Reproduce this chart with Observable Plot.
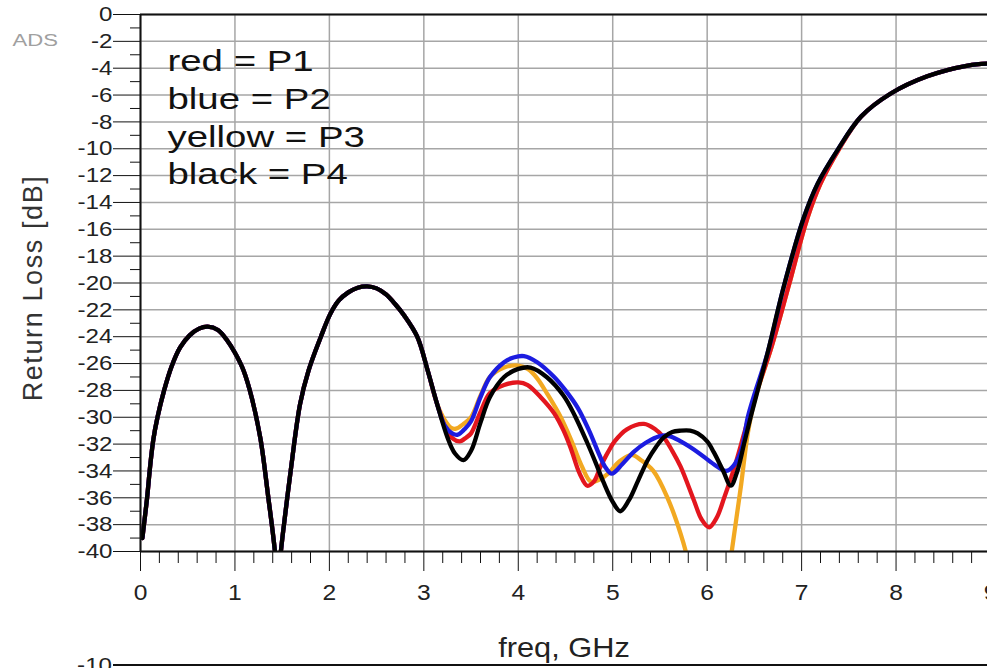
<!DOCTYPE html>
<html>
<head>
<meta charset="utf-8">
<script src="https://cdn.jsdelivr.net/npm/d3@7"></script>
<script src="https://cdn.jsdelivr.net/npm/@observablehq/plot@0.6"></script>
<style>
  html, body { margin: 0; padding: 0; background: white; overflow: hidden; }
  #chart svg { display: block; }
</style>
</head>
<body>
<div id="chart"></div>
<script>
// ---- data (freq GHz, return loss dB) ----
const lowBand = [
  [0.02,-39.0],[0.04,-37.8],[0.07,-36.0],[0.1,-33.8],[0.135,-31.7],[0.18,-30.0],[0.25,-28.0],
  [0.33,-26.2],[0.42,-24.8],[0.52,-23.9],[0.62,-23.4],[0.71,-23.25],[0.82,-23.5],[0.92,-24.3],
  [1.0,-25.2],[1.09,-26.5],[1.18,-28.6],[1.27,-31.6],[1.35,-35.8],[1.43,-40.5],[1.455,-44],
  [1.48,-40.5],[1.54,-36.8],[1.59,-34.0],[1.69,-29.0],[1.78,-26.5],[1.91,-24.0],[2.01,-22.3],
  [2.1,-21.3],[2.2,-20.7],[2.3,-20.35],[2.4,-20.25],[2.5,-20.4],[2.6,-20.85],[2.7,-21.6],
  [2.79,-22.4],[2.93,-24.0],[3.04,-26.5],[3.14,-29.0]
];
const highBand = [
  [6.64,-25.2],[6.81,-20.3],[7.02,-15.2],[7.17,-12.6],[7.38,-10.1],[7.63,-7.6],
  [7.94,-5.9],[8.33,-4.6],[8.76,-3.8],[9.0,-3.65]
];
const highBandShifted = [
  [6.68,-24.8],[6.86,-20.3],[7.06,-15.2],[7.2,-12.6],[7.39,-10.1],[7.63,-7.6],
  [7.94,-5.9],[8.33,-4.6],[8.76,-3.8],[9.0,-3.65]
];
// red = P1
const p1Mid = [
  [3.23,-30.8],[3.31,-31.6],[3.38,-31.8],[3.45,-31.5],[3.5,-31.2],[3.6,-29.6],[3.7,-28.2],
  [3.85,-27.6],[4.0,-27.4],[4.1,-27.6],[4.25,-28.6],[4.38,-29.7],[4.48,-31.0],[4.56,-32.4],
  [4.65,-34.2],[4.73,-35.1],[4.8,-34.8],[4.87,-33.7],[4.95,-32.6],[5.02,-31.8],[5.15,-30.9],
  [5.33,-30.5],[5.45,-30.9],[5.54,-31.5],[5.63,-32.5],[5.72,-33.7],[5.86,-36.2],[5.94,-37.6],
  [6.02,-38.2],[6.1,-37.5],[6.18,-36.0],[6.29,-33.7],[6.4,-31.0],[6.5,-28.6]
];
// blue = P2
const p2Mid = [
  [3.22,-30.6],[3.3,-31.2],[3.36,-31.3],[3.43,-30.9],[3.5,-30.3],[3.6,-28.5],[3.7,-27.0],
  [3.85,-25.9],[3.95,-25.55],[4.06,-25.45],[4.2,-25.9],[4.38,-27.0],[4.5,-28.0],[4.63,-29.3],
  [4.75,-31.0],[4.84,-32.5],[4.92,-33.7],[4.99,-34.2],[5.1,-33.5],[5.22,-32.6],[5.35,-31.9],
  [5.5,-31.4],[5.6,-31.4],[5.72,-31.8],[5.9,-32.6],[6.07,-33.5],[6.2,-34.0],[6.28,-33.6],
  [6.36,-32.5],[6.43,-30.0],[6.5,-28.3]
];
// yellow = P3
const p3Mid = [
  [3.22,-30.2],[3.29,-30.8],[3.34,-30.85],[3.42,-30.5],[3.5,-30.0],[3.6,-28.4],[3.7,-27.0],
  [3.85,-26.3],[4.0,-26.15],[4.1,-26.4],[4.2,-27.1],[4.31,-28.3],[4.45,-30.0],[4.56,-31.7],
  [4.67,-33.6],[4.77,-34.8],[4.87,-34.6],[4.95,-34.2],[5.07,-33.3],[5.2,-32.8],[5.3,-33.2],
  [5.43,-34.0],[5.58,-36.0],[5.72,-38.7],[5.79,-40.5],[5.86,-44],[6.02,-50],[6.18,-44],
  [6.25,-40.5],[6.31,-37.5],[6.36,-35.0],[6.43,-31.2],[6.5,-28.8]
];
// black = P4
const p4Mid = [
  [3.25,-31.5],[3.33,-32.7],[3.42,-33.2],[3.5,-32.5],[3.6,-30.4],[3.7,-28.5],[3.85,-27.0],
  [4.0,-26.4],[4.13,-26.3],[4.3,-27.0],[4.48,-28.4],[4.6,-29.9],[4.73,-31.9],[4.82,-33.4],
  [4.9,-34.8],[5.0,-36.3],[5.08,-37.0],[5.17,-36.2],[5.27,-34.7],[5.37,-33.2],[5.46,-32.2],
  [5.54,-31.5],[5.63,-31.1],[5.72,-31.0],[5.82,-31.0],[5.9,-31.2],[6.0,-31.8],[6.07,-32.6],
  [6.17,-34.0],[6.25,-35.1],[6.32,-34.0],[6.39,-32.0],[6.46,-30.0],[6.55,-27.6]
];

const seriesNames = ["P3", "P1", "P2", "P4"];          // draw order
const seriesColors = ["#f2a922", "#e3161e", "#1c1ce0", "#000000"];
const seriesPoints = [
  lowBand.concat(p3Mid, highBandShifted),
  lowBand.concat(p1Mid, highBandShifted),
  lowBand.concat(p2Mid, highBand),
  lowBand.concat(p4Mid, highBand)
];

const xMajorTicks = d3.range(0, 10, 1);
const xMinorTicks = d3.range(1, 45).filter(i => i % 5 !== 0).map(i => i / 5);
const yMajorTicks = d3.range(-40, 1, 2);
const yMinorTicks = d3.range(-39, 0, 2);
const legendLines = ["red = P1", "blue = P2", "yellow = P3", "black = P4"];
const xTitle = "freq, GHz";
const yTitle = "Return Loss [dB]";

// ---- build ----
const rows = seriesNames.flatMap((s, i) => seriesPoints[i].map(([f, db]) => ({series: s, f, db})));
const font = "'Liberation Sans', Arial, sans-serif";

const lineMarks = seriesNames.map((s, i) =>
  Plot.line(rows.filter(r => r.series === s), {
    x: "f", y: "db", stroke: seriesColors[i], strokeWidth: 4.3,
    curve: "catmull-rom", clip: true
  })
);

const plot = Plot.plot({
  width: 987,
  height: 668,
  marginLeft: 140,
  marginRight: 0,
  marginTop: 14,
  marginBottom: 117,
  style: {fontFamily: font, background: "white", overflow: "hidden"},
  x: {domain: [0, 9], range: [140, 990]},
  y: {domain: [-40, 0]},
  marks: [
    Plot.gridY(yMajorTicks, {stroke: "#a6a6a6", strokeOpacity: 1, strokeWidth: 1.5}),
    Plot.gridX(xMajorTicks, {stroke: "#a6a6a6", strokeOpacity: 1, strokeWidth: 1.5}),
    Plot.axisY(yMajorTicks, {tickSize: 27, tickPadding: 1, fontSize: 21, stroke: "#111", color: "#222",
      tickFormat: d => String(d), label: null}),
    Plot.axisY(yMinorTicks, {tickSize: 10, tickFormat: () => "", stroke: "#111", label: null}),
    Plot.axisX(xMajorTicks, {tickSize: 20, tickPadding: 13, fontSize: 22, stroke: "#111", color: "#222",
      tickFormat: d => String(d), label: null}),
    Plot.axisX(xMinorTicks, {tickSize: 12, tickFormat: () => "", stroke: "#111", label: null}),
    ...lineMarks,
    Plot.ruleY([0, -40], {stroke: "#111", strokeWidth: 2}),
    Plot.ruleX([0], {stroke: "#111", strokeWidth: 2}),
    Plot.text([legendLines.join("\n")], {
      frameAnchor: "top-left", dx: 27, dy: 30, lineAnchor: "top", textAnchor: "start",
      lineHeight: 1.257, fontSize: 30, fill: "#111"
    }),
    Plot.text([xTitle], {frameAnchor: "bottom", dy: 105, fontSize: 27, fill: "#222"}),
    Plot.text([yTitle], {frameAnchor: "left", textAnchor: "middle", dx: -107, dy: 5, rotate: -90,
      fontSize: 27, fill: "#333"}),
    Plot.text(["ADS"], {frameAnchor: "top-left", dx: -128, dy: 19, textAnchor: "start", fontSize: 17, fill: "#a0a0a0"})
  ]
});

document.getElementById("chart").appendChild(plot);
const svgNode = plot.tagName.toLowerCase() === "svg" ? plot : plot.querySelector("svg");

// the reference screenshot is horizontally stretched: widen glyphs around an anchor edge
function stretch(el, s, anchor) {
  const parent = el.parentNode;
  const g = document.createElementNS("http://www.w3.org/2000/svg", "g");
  parent.insertBefore(g, el);
  g.appendChild(el);
  const r = el.getBoundingClientRect();
  const sx = anchor === "start" ? r.left : anchor === "end" ? r.right : (r.left + r.right) / 2;
  const pt = svgNode.createSVGPoint();
  pt.x = sx; pt.y = (r.top + r.bottom) / 2;
  const local = pt.matrixTransform(g.getScreenCTM().inverse());
  g.setAttribute("transform", `translate(${local.x},0) scale(${s},1) translate(${-local.x},0)`);
}
const svg = d3.select(svgNode);
svg.selectAll('g[aria-label="y-axis tick label"] text').each(function() { if (this.textContent) stretch(this, 1.15, "end"); });
svg.selectAll('g[aria-label="x-axis tick label"] text').each(function() { if (this.textContent) stretch(this, 1.12, "middle"); });
svg.selectAll("text").each(function() {
  const t = this.textContent;
  if (t === legendLines.join("")) stretch(this, 1.28, "start");
  else if (t === xTitle) stretch(this, 1.14, "middle");
  else if (t === "ADS") stretch(this, 1.3, "start");
  else if (t === yTitle) d3.select(this).attr("letter-spacing", 1.6);
});

// top edge of the next (cut-off) chart below
const g2 = svg.append("g");
g2.append("line").attr("x1", 113).attr("x2", 987).attr("y1", 665).attr("y2", 665)
  .attr("stroke", "#111").attr("stroke-width", 2);
const minus10 = g2.append("text").attr("x", 112).attr("y", 672).attr("text-anchor", "end")
  .attr("font-size", 21).attr("fill", "#222").attr("font-family", font).text("-10");
stretch(minus10.node(), 1.15, "end");
</script>
</body>
</html>
